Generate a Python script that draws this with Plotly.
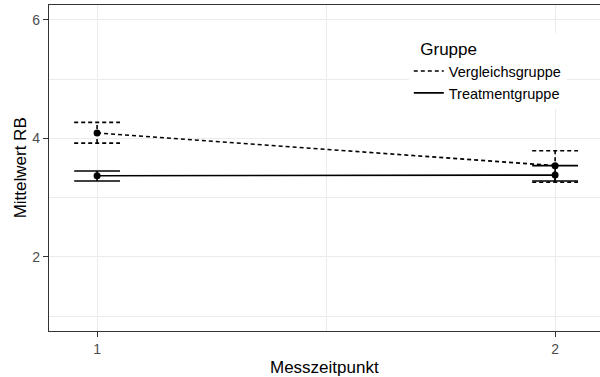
import plotly.graph_objects as go

# Data
zeit = [1, 2]
vergleich_mean = [4.09, 3.54]
vergleich_lower = [3.92, 3.26]
vergleich_upper = [4.27, 3.79]
treatment_mean = [3.37, 3.38]
treatment_lower = [3.28, 3.28]
treatment_upper = [3.45, 3.54]
gruppen = ["Vergleichsgruppe", "Treatmentgruppe"]
x_ticks = [1, 2]
y_ticks = [2, 4, 6]
x_title = "Messzeitpunkt"
y_title = "Mittelwert RB"
legend_title = "Gruppe"
cap_half = 0.05

def errorbar_xy(xs, lo, hi):
    ex, ey = [], []
    for x, l, h in zip(xs, lo, hi):
        ex += [x - cap_half, x + cap_half, None, x - cap_half, x + cap_half, None, x, x, None]
        ey += [l, l, None, h, h, None, l, h, None]
    return ex, ey

fig = go.Figure()
dash_v = "4px,3px"

# Error bars
ex, ey = errorbar_xy(zeit, vergleich_lower, vergleich_upper)
fig.add_trace(go.Scatter(x=ex, y=ey, mode="lines", line=dict(color="black", width=1.6, dash=dash_v),
                         showlegend=False, hoverinfo="skip"))
ex, ey = errorbar_xy(zeit, treatment_lower, treatment_upper)
fig.add_trace(go.Scatter(x=ex, y=ey, mode="lines", line=dict(color="black", width=1.6),
                         showlegend=False, hoverinfo="skip"))

# Lines (legend)
fig.add_trace(go.Scatter(x=zeit, y=vergleich_mean, mode="lines", name=gruppen[0],
                         line=dict(color="black", width=1.6, dash=dash_v)))
fig.add_trace(go.Scatter(x=zeit, y=treatment_mean, mode="lines", name=gruppen[1],
                         line=dict(color="black", width=1.6)))

# Points
fig.add_trace(go.Scatter(x=zeit + zeit, y=vergleich_mean + treatment_mean, mode="markers",
                         marker=dict(color="black", size=7), showlegend=False))

font_family = "Liberation Sans, Arial, sans-serif"
fig.update_layout(
    width=600, height=377,
    margin=dict(l=49, r=0, t=5, b=46),
    paper_bgcolor="white", plot_bgcolor="white",
    font=dict(family=font_family, color="black"),
    legend=dict(
        title=dict(text="\u00a0\u00a0" + legend_title, font=dict(size=17, color="black")),
        font=dict(size=14.5, color="black"),
        x=0.653, xanchor="left", y=0.914, yanchor="top",
        bgcolor="white", borderwidth=0,
        itemwidth=30,
    ),
    xaxis=dict(
        range=[0.895, 2.098], tickvals=x_ticks, ticktext=[str(v) for v in x_ticks],
        showgrid=True, gridcolor="#ebebeb", gridwidth=1.2,
        minor=dict(tickvals=[1.5], showgrid=True, gridcolor="#ebebeb", gridwidth=0.6, ticks=""),
        showline=True, linecolor="#333333", linewidth=1.2, mirror=True,
        ticks="outside", ticklen=5, tickcolor="#333333", tickwidth=1,
        tickfont=dict(size=14, color="#4d4d4d"),
        automargin=False, zeroline=False,
    ),
    yaxis=dict(
        range=[0.75, 6.25], tickvals=y_ticks, ticktext=[str(v) for v in y_ticks],
        showgrid=True, gridcolor="#ebebeb", gridwidth=1.2,
        minor=dict(tickvals=[1, 3, 5], showgrid=True, gridcolor="#ebebeb", gridwidth=0.6, ticks=""),
        showline=True, linecolor="#333333", linewidth=1.2, mirror=True,
        ticks="outside", ticklen=5, tickcolor="#333333", tickwidth=1,
        tickfont=dict(size=14, color="#4d4d4d"),
        automargin=False, zeroline=False,
    ),
    annotations=[
        dict(text=x_title, xref="paper", yref="paper", x=0.5, y=-0.077, yanchor="top",
             xanchor="center", showarrow=False, font=dict(size=17, color="black")),
        dict(text=y_title, xref="paper", yref="paper", x=-0.052, y=0.5, xanchor="center",
             yanchor="middle", textangle=-90, showarrow=False, font=dict(size=17, color="black")),
    ],
)

fig.write_html("out.html", config={"displayModeBar": False},
               post_script="document.body.style.margin='0';")
